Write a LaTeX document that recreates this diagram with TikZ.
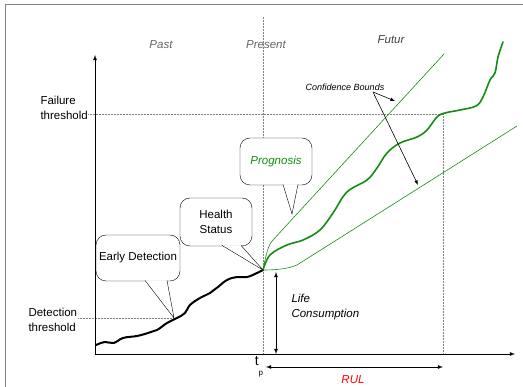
\documentclass[tikz,border=0pt]{standalone}
\usepackage{fontspec}
\setmainfont{Liberation Sans}
\usetikzlibrary{calc}

\definecolor{progreen}{RGB}{20,140,20}
\definecolor{labgray}{RGB}{100,100,100}

\begin{document}
\begin{tikzpicture}[x=1pt, y=-1pt,
    bubble/.style={draw, rectangle, rounded corners=10pt, fill=white, align=center, inner sep=2pt, font=\fontsize{11.5}{15}\selectfont},
    tail/.style={draw, fill=white, line join=miter},
    guide/.style={draw, gray, densely dotted, line width=0.5pt},
    axis/.style={draw, -latex, line width=0.8pt},
    span/.style={draw, latex-latex, line width=0.8pt},
    lbl/.style={font=\fontsize{11.5}{15}\selectfont, align=left},
    era/.style={font=\fontsize{11.5}{13}\selectfont\itshape, text=labgray},
    bound/.style={draw, progreen, line width=0.6pt},
    trend/.style={draw, progreen, line width=1.6pt, line cap=round}
]
    \useasboundingbox (0,0) rectangle (523,387);
    \draw [gray, line width=1pt] (5,387) -- (5,5) -- (523,5);

    % reference points
    \coordinate (orig) at (95,354);
    \coordinate (ytop) at (95,55);
    \coordinate (xend) at (515,354);
    \coordinate (now) at (263,270);
    \coordinate (nowtop) at (263,17);
    \coordinate (nowbot) at (263,354);
    \coordinate (ftl) at (88,114);
    \coordinate (fail) at (443,114);
    \coordinate (failbot) at (443,354);
    \coordinate (dtl) at (78,318);
    \coordinate (detect) at (174,318);
    \coordinate (progtip) at (292,214);

    % guides
    \draw [guide] (nowtop) -- (nowbot);
    \draw [guide] (ftl) -- (fail) -- (failbot);
    \draw [guide] (dtl) -- (detect);

    % axes
    \draw [axis] (orig) -- (ytop);
    \draw [axis] (orig) -- (xend);

    % degradation so far
    \draw [line width=2pt, line cap=round] plot [smooth, tension=0.7] coordinates {
        (96,345) (105,342) (114,343) (123,338) (137,336) (148,333) (157,330)
        (167,323) (177,318) (185,313) (190,305) (200,298) (210,293) (218,287)
        (227,280) (237,277) (247,277) (257,273) (263,270)};

    % forecast
    \draw [bound] (now) .. controls (266,255) and (268,245) .. (273,240) -- (444,54);
    \draw [bound] (now) .. controls (275,270) and (288,269) .. (297,265) -- (517,126);
    \draw [trend] plot [smooth, tension=0.6] coordinates {
        (now) (270,255) (287,245) (303,240) (320,230) (333,213) (347,192)
        (367,180) (377,168) (387,153) (400,143) (417,137) (427,130) (437,117)
        (445,113) (460,110) (476,106) (483,97) (490,80) (495,73) (498,57) (503,42)};

    % callouts
    \node [bubble, minimum width=84pt, minimum height=46pt] (early) at (138,258) {Early Detection};
    \draw [tail] ($(early.south)+(7,-0.8)$) -- (detect) -- ($(early.south)+(29,-0.8)$);
    \node [bubble, minimum width=72pt, minimum height=48pt] (health) at (216,222) {Health\\Status};
    \draw [tail] ($(health.south)+(6,-0.8)$) -- (now) -- ($(health.south)+(25,-0.8)$);
    \node [bubble, minimum width=72pt, minimum height=47pt, text=progreen, font=\fontsize{11.5}{15}\selectfont\itshape] (prog) at (276,161.5) {Prognosis};
    \draw [tail] ($(prog.south)+(7,-0.8)$) -- (progtip) -- ($(prog.south)+(22,-0.8)$);

    % labels
    \node [lbl, anchor=west] (failure) at (37,107.5) {Failure\\threshold};
    \node [lbl, anchor=west] (detection) at (25,320) {Detection\\threshold};
    \node [era] (past) at (161,45) {Past};
    \node [era] (present) at (266,45) {Present};
    \node [era, text=black!75] (futur) at (391,40) {Futur};

    \node [font=\fontsize{9}{10}\selectfont\itshape] (conf) at (345,87) {Confidence Bounds};
    \coordinate (confsrc) at (373,92);
    \coordinate (confup) at (395,101);
    \coordinate (conflow) at (418,185);
    \draw [-latex, line width=0.6pt] (confsrc) -- (confup);
    \draw [-latex, line width=0.6pt] (confsrc) -- (conflow);

    \coordinate (lctop) at (276,272);
    \coordinate (lcbot) at (276,354);
    \draw [span] (lctop) -- (lcbot);
    \node [lbl, anchor=west, font=\fontsize{11.5}{15}\selectfont\itshape] (life) at (288,307.5) {Life\\Consumption};

    \coordinate (rulL) at (266,367);
    \coordinate (rulR) at (443,367);
    \draw [span] (rulL) -- (rulR);
    \node [font=\fontsize{11.5}{13}\selectfont\itshape, text=red] (rul) at (353,380) {RUL};
    \node [font=\fontsize{14}{15}\selectfont, inner sep=0pt] (tp) at (259,367) {t\raisebox{-10pt}{\fontsize{8}{9}\selectfont p}};
\end{tikzpicture}
\end{document}
